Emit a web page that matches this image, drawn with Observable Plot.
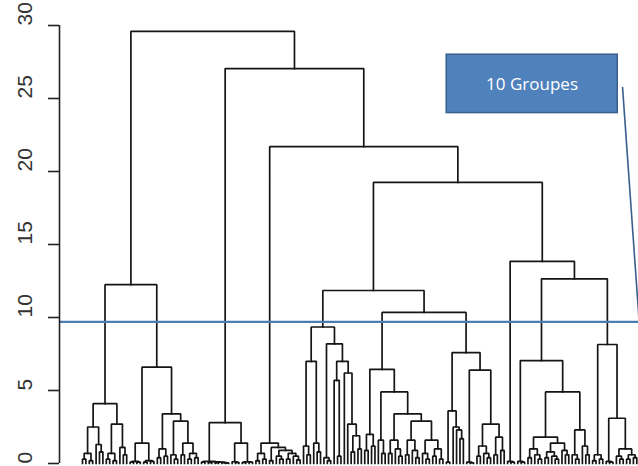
<!DOCTYPE html>
<html><head><meta charset="utf-8">
<script src="https://cdn.jsdelivr.net/npm/d3@7"></script>
<script src="https://cdn.jsdelivr.net/npm/@observablehq/plot@0.6"></script>
<style>html,body{margin:0;padding:0;background:#fff;overflow:hidden}</style>
</head><body><div id="chart"></div>
<script>
// ---- data ----
const yTicks = [0, 5, 10, 15, 20, 25, 30];
const cutHeight = 9.7;
const groupLabel = "10 Groupes";
// annotation placement (data units: leaf index, height)
const labelBoxX = [107.1, 157.4];
const labelBoxY = [24.0, 28.0];
const labelPos = [132.2, 25.95];
const pointerX = [158.8, 163.7];
const pointerY = [25.8, 9.7];

// subtrees: leaf = 0, merge = [height, left, right]
const groupA1 = [4.1, [2.5, [0.7, [0.3,0,0], [0.2,0,0]], [1.3, 0, [0.8,0,0]]], [2.7, [0.7, [0.3,0,0], [0.2,0,0]], [1.1, 0, [0.6,0,0]]]];
const groupA2 = [6.6, [1.4, [0.15, [0.1,0,0], [0.1,0,0]], [0.2, [0.1,0,0], [0.15,0,0]]], [3.4, [1.0, [0.4,0,0], [0.5,0,0]], [2.9, [0.6, 0, [0.3,0,0]], [1.4, [0.6,0,0], [0.7, [0.3,0,0], [0.4,0,0]]]]]];
const groupB = [2.8, [0.15, [0.1,0,0], [0.12, [0.08,0,0], [0.1, [0.05,0,0], [0.06, 0, [0.04,0,0]]]]], [1.4, [0.12, 0, [0.08,0,0]], [0.12, [0.08,0,0], [0.1,0,0]]]];
const groupC = [1.4, [0.7, [0.2,0,0], [0.3,0,0]], [1.1, [0.2,0,0], [0.9, [0.5, 0, [0.3,0,0]], [0.7, [0.3,0,0], [0.5, 0, [0.25,0,0]]]]]];
const groupD1 = [9.35, [7.0, [1.2, 0, [0.6,0,0]], [1.4, 0, [0.8,0,0]]], [8.2, [0.4, 0, [0.2,0,0]], [7.0, [5.7, 0, [0.5,0,0]], [6.2, 0, [2.7, 0, [1.9, [0.8,0,0], [1.0,0,0]]]]]]];
const groupD2a = [6.45, [2.0, [0.9,0,0], [1.2,0,0]], [4.9, [1.6, 0, [0.7,0,0]], [3.4, [1.6, [0.7,0,0], [1.0, 0, [0.5,0,0]]], [2.9, [1.6, [0.6,0,0], [0.9, 0, [0.4,0,0]]], [1.6, [0.7, 0, [0.3,0,0]], [1.0, [0.5,0,0], [0.3,0,0]]]]]]];
const groupD2b = [7.6, [3.6, [0.1,0,0], [2.5, 0, [2.3, 0, [1.7,0,0]]]], [6.4, [0.1, 0, [0.05,0,0]], [2.7, [1.2, [0.5,0,0], [0.7, 0, [0.4,0,0]]], [1.8, [0.6,0,0], [0.9,0,0]]]]];
const groupE = [0.15, 0, [0.1,0,0]];
const groupF1 = [7.05, [0.15, 0, [0.1,0,0]], [4.9, [1.8, [1.0, [0.4,0,0], [0.6, 0, [0.3,0,0]]], [1.4, [0.8, [0.4,0,0], [0.5, 0, [0.3,0,0]]], [0.9, 0, [0.6,0,0]]]], [2.3, [0.6, 0, [0.3,0,0]], [1.2, 0, [0.6,0,0]]]]];
const groupF2 = [8.15, [0.6, [0.2,0,0], [0.3,0,0]], [3.1, [0.15, 0, [0.1,0,0]], [1.0, [0.5, 0, [0.3,0,0]], [0.6, [0.3,0,0], [0.4,0,0]]]]];
// upper merge heights
const upperHeights = {A: 12.25, F: 12.65, EF: 13.85, D2: 10.35, D: 11.85, DEF: 19.25, CDEF: 21.7, BCDEF: 27.05, root: 29.6};

const tree = [upperHeights.root,
  [upperHeights.A, groupA1, groupA2],
  [upperHeights.BCDEF, groupB,
    [upperHeights.CDEF, groupC,
      [upperHeights.DEF,
        [upperHeights.D, groupD1, [upperHeights.D2, groupD2a, groupD2b]],
        [upperHeights.EF, groupE, [upperHeights.F, groupF1, groupF2]]]]]];

// ---- layout (R hclust style: leaves evenly spaced, node at midpoint) ----
const segs = [];
let leafCount = 0, nodeId = 0;
function layout(n) {
  if (!Array.isArray(n)) return {x: leafCount++, h: 0};
  const l = layout(n[1]), r = layout(n[2]);
  const id = nodeId++;
  segs.push({id, x: l.x, y: l.h}, {id, x: l.x, y: n[0]}, {id, x: r.x, y: n[0]}, {id, x: r.x, y: r.h});
  return {x: (l.x + r.x) / 2, h: n[0]};
}
layout(tree);

const xDomain = [-6.76, 163.5];

const chart = Plot.plot({
  width: 638,
  height: 466,
  marginLeft: 59,
  marginRight: 0,
  marginTop: 25,
  marginBottom: 3,
  style: {background: "#fff", fontFamily: "Liberation Sans, Arial, sans-serif", overflow: "hidden"},
  x: {domain: xDomain, axis: null},
  y: {domain: [0, 30], axis: null},
  marks: [
    Plot.line(segs, {x: "x", y: "y", z: "id", stroke: "#151515", strokeWidth: 1.7, strokeLinejoin: "miter", strokeLinecap: "square"}),
    Plot.ruleY([cutHeight], {stroke: "#4a7db3", strokeWidth: 2.3}),
    Plot.ruleX([xDomain[0]], {y1: yTicks[0], y2: yTicks[yTicks.length - 1], stroke: "#222", strokeWidth: 1.6}),
    Plot.axisY({ticks: yTicks, tickSize: 11, tickFormat: () => "", stroke: "#222", strokeWidth: 1.6, label: null}),
    Plot.text(yTicks, {y: d => d, text: d => String(d), frameAnchor: "left", dx: -34, rotate: -90, fontSize: 21, fill: "#333"}),
    Plot.rect([0], {x1: labelBoxX[0], x2: labelBoxX[1], y1: labelBoxY[0], y2: labelBoxY[1], fill: "#4f81bd", stroke: "#3a5f8c", strokeWidth: 1.5}),
    Plot.text([groupLabel], {x: labelPos[0], y: labelPos[1], text: d => d, fill: "#fff", fontSize: 17, fontFamily: "Open Sans, sans-serif"}),
    Plot.link([0], {x1: pointerX[0], y1: pointerY[0], x2: pointerX[1], y2: pointerY[1], stroke: "#3a5f8c", strokeWidth: 1.6})
  ]
});
document.getElementById("chart").appendChild(chart);
</script>
</body></html>
